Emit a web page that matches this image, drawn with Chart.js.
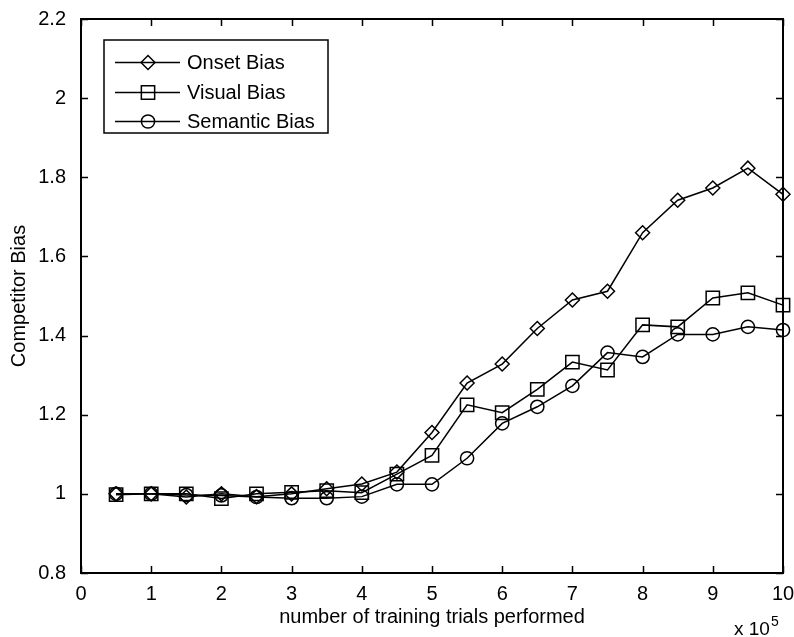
<!DOCTYPE html>
<html>
<head>
<meta charset="utf-8">
<script src="https://cdn.jsdelivr.net/npm/chart.js@4/dist/chart.umd.min.js"></script>
<style>
  html, body { margin: 0; padding: 0; background: #fff; }
  #wrap { width: 794px; height: 637px; position: relative; }
</style>
</head>
<body>
<div id="wrap"><canvas id="chart" width="794" height="637"></canvas></div>
<script>
"use strict";

// data (x in units of 10^5 trials)
const trials = [0.5, 1, 1.5, 2, 2.5, 3, 3.5, 4, 4.5, 5, 5.5, 6, 6.5, 7, 7.5, 8, 8.5, 9, 9.5, 10];
const onsetBias = [1.0, 1.0, 0.992, 1.0, 0.993, 1.0, 1.013, 1.025, 1.055, 1.155, 1.28, 1.328, 1.418, 1.49, 1.512, 1.66, 1.742, 1.773, 1.823, 1.757];
const visualBias = [0.998, 1.0, 1.0, 0.988, 1.0, 1.004, 1.008, 1.003, 1.05, 1.097, 1.225, 1.205, 1.264, 1.333, 1.313, 1.427, 1.422, 1.495, 1.508, 1.477];
const semanticBias = [1.0, 1.0, 0.997, 0.996, 0.992, 0.989, 0.989, 0.993, 1.024, 1.024, 1.09, 1.178, 1.22, 1.273, 1.357, 1.346, 1.403, 1.403, 1.422, 1.414];

const seriesNames = ['Onset Bias', 'Visual Bias', 'Semantic Bias'];
const xTicks = [0, 1, 2, 3, 4, 5, 6, 7, 8, 9, 10];
const yTicks = [0.8, 1, 1.2, 1.4, 1.6, 1.8, 2, 2.2];

const FONT = 'Arial, "Liberation Sans", Helvetica, sans-serif';
Chart.defaults.font.family = FONT;
Chart.defaults.font.size = 20;
Chart.defaults.color = '#000';

const toPoints = vals => vals.map((v, i) => ({ x: trials[i], y: v }));

// matlab markers are hollow
const markers = [
  { style: 'rectRot', radius: 7 },
  { style: 'rect', radius: 9.4 },
  { style: 'circle', radius: 6.6 }
];

// box, inward ticks and the x 10^5 exponent
const framePlugin = {
  id: 'frame',
  afterDraw(chart) {
    const { ctx, chartArea: a, scales: { x, y } } = chart;
    ctx.save();
    ctx.strokeStyle = '#000';
    ctx.lineWidth = 1.5;
    ctx.beginPath();
    xTicks.forEach(t => {
      const px = Math.round(x.getPixelForValue(t)) + 0.5;
      ctx.moveTo(px, a.bottom); ctx.lineTo(px, a.bottom - 7);
      ctx.moveTo(px, a.top); ctx.lineTo(px, a.top + 7);
    });
    yTicks.forEach(t => {
      const py = Math.round(y.getPixelForValue(t)) + 0.5;
      ctx.moveTo(a.left, py); ctx.lineTo(a.left + 7, py);
      ctx.moveTo(a.right, py); ctx.lineTo(a.right - 7, py);
    });
    ctx.stroke();
    ctx.lineWidth = 2;
    ctx.strokeRect(a.left, a.top, a.right - a.left, a.bottom - a.top);

    ctx.fillStyle = '#000';
    ctx.textBaseline = 'alphabetic';
    ctx.textAlign = 'left';
    ctx.font = '19px ' + FONT;
    ctx.fillText('x 10', 734, 635);
    ctx.font = '14px ' + FONT;
    ctx.fillText('5', 771, 626);
    ctx.restore();
  }
};

// legend box inside the plot, upper left
const legendPlugin = {
  id: 'boxLegend',
  afterDraw(chart) {
    const { ctx } = chart;
    const box = { left: 104, top: 40, right: 328, bottom: 133 };
    const rows = [62, 92, 121];
    ctx.save();
    ctx.fillStyle = '#fff';
    ctx.fillRect(box.left, box.top, box.right - box.left, box.bottom - box.top);
    ctx.strokeStyle = '#000';
    ctx.lineWidth = 1.5;
    ctx.strokeRect(box.left, box.top, box.right - box.left, box.bottom - box.top);
    seriesNames.forEach((name, i) => {
      const yy = rows[i] + 0.5;
      ctx.lineWidth = 1.5;
      ctx.beginPath();
      ctx.moveTo(115, yy);
      ctx.lineTo(180, yy);
      ctx.stroke();
      ctx.fillStyle = 'rgba(0,0,0,0)';
      Chart.helpers.drawPoint(ctx, {
        pointStyle: markers[i].style,
        radius: markers[i].radius,
        rotation: 0,
        borderWidth: 1.5
      }, 148, yy);
      ctx.fillStyle = '#000';
      ctx.font = '20px ' + FONT;
      ctx.textBaseline = 'middle';
      ctx.textAlign = 'left';
      ctx.fillText(name, 187, yy + 1);
    });
    ctx.restore();
  }
};

const datasets = [onsetBias, visualBias, semanticBias].map((vals, i) => ({
  label: seriesNames[i],
  data: toPoints(vals),
  borderColor: '#000',
  borderWidth: 1.5,
  backgroundColor: 'rgba(0,0,0,0)',
  pointStyle: markers[i].style,
  pointRadius: markers[i].radius,
  pointBorderWidth: 1.5,
  pointBackgroundColor: 'rgba(0,0,0,0)',
  pointBorderColor: '#000',
  tension: 0,
  clip: false
}));

const ctx = document.getElementById('chart');

const chart = new Chart(ctx, {
  type: 'line',
  data: { datasets: datasets },
  options: {
    responsive: false,
    animation: false,
    layout: { padding: { top: 19, right: 11, left: 0, bottom: 0 } },
    plugins: {
      legend: { display: false },
      tooltip: { enabled: false }
    },
    scales: {
      x: {
        type: 'linear',
        min: 0,
        max: 10,
        grid: { display: false },
        border: { display: false },
        afterBuildTicks: scale => { scale.ticks = xTicks.map(v => ({ value: v })); },
        afterFit: scale => {
          scale.height = 64;
          scale.paddingLeft = 0;
          scale.paddingRight = 0;
        },
        ticks: { autoSkip: false, maxRotation: 0, padding: 1 },
        title: {
          display: true,
          text: 'number of training trials performed',
          font: { size: 20 },
          padding: { top: 0, bottom: 8 }
        }
      },
      y: {
        type: 'linear',
        min: 0.8,
        max: 2.2,
        grid: { display: false },
        border: { display: false },
        afterBuildTicks: scale => { scale.ticks = yTicks.map(v => ({ value: v })); },
        afterFit: scale => {
          scale.width = 81;
          scale.paddingTop = 0;
          scale.paddingBottom = 0;
        },
        ticks: {
          autoSkip: false,
          padding: 7,
          callback: v => String(Number(v.toFixed(1)))
        },
        title: {
          display: true,
          text: 'Competitor Bias',
          font: { size: 20 },
          padding: { top: 7, bottom: 0 }
        }
      }
    }
  },
  plugins: [framePlugin, legendPlugin]
});
</script>
</body>
</html>
